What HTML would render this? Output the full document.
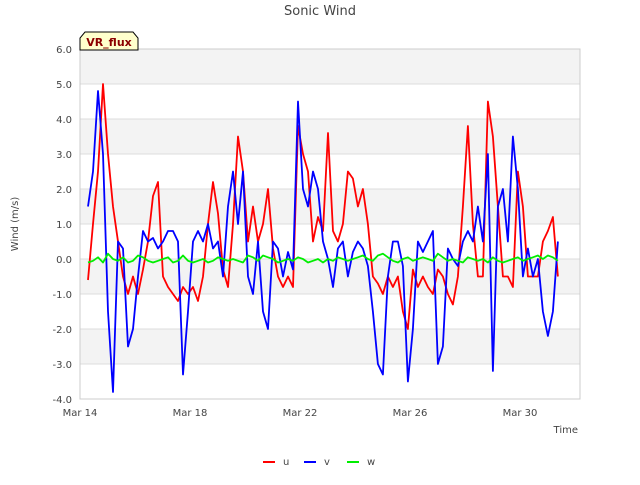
<!DOCTYPE html>
<html><head><meta charset="utf-8"><style>
body{margin:0;background:#fff;font-family:"Liberation Sans",sans-serif}
text{font-family:"DejaVu Sans","Liberation Sans",sans-serif}
</style></head><body>
<svg id="c" width="640" height="480">
<text x="320" y="15" text-anchor="middle" font-size="13" fill="#444">Sonic Wind</text>
<text x="18" y="224" text-anchor="middle" font-size="10" fill="#444" transform="rotate(-90 18 224)">Wind (m/s)</text>
<text x="578" y="433" text-anchor="end" font-size="10" fill="#444">Time</text>
<g id="bands"></g><g id="grid"></g><g id="ticks"></g><g id="series"></g>
<g><path d="M80 50 L80 38 L85 32 L133 32 L138 38 L138 50 Z" fill="#ffffcc" stroke="#000"/><text x="109" y="46" text-anchor="middle" font-size="11" font-weight="bold" fill="#8b0000">VR_flux</text></g>
<g id="legend"></g>
</svg>
<script>
const yTicks=[-4,-3,-2,-1,0,1,2,3,4,5,6];
const xTickDays=[0,4,8,12,16];
const xTickLabels=["Mar 14","Mar 18","Mar 22","Mar 26","Mar 30"];
const t0=0.29, dt=0.1818;
const u=[-0.6,1.0,2.5,5.0,3.0,1.5,0.5,-0.5,-1.0,-0.5,-1.0,-0.3,0.5,1.8,2.2,-0.5,-0.8,-1.0,-1.2,-0.8,-1.0,-0.8,-1.2,-0.5,1.0,2.2,1.3,-0.3,-0.8,1.0,3.5,2.5,0.5,1.5,0.5,1.0,2.0,0.3,-0.5,-0.8,-0.5,-0.8,3.8,3.0,2.5,0.5,1.2,0.8,3.6,0.8,0.5,1.0,2.5,2.3,1.5,2.0,1.0,-0.5,-0.7,-1.0,-0.5,-0.8,-0.5,-1.5,-2.0,-0.3,-0.8,-0.5,-0.8,-1.0,-0.3,-0.5,-1.0,-1.3,-0.5,1.5,3.8,1.0,-0.5,-0.5,4.5,3.5,1.5,-0.5,-0.5,-0.8,2.5,1.5,-0.5,-0.5,-0.5,0.5,0.8,1.2,-0.5];
const v=[1.5,2.5,4.8,3.0,-1.5,-3.8,0.5,0.3,-2.5,-2.0,-0.5,0.8,0.5,0.6,0.3,0.5,0.8,0.8,0.5,-3.3,-1.5,0.5,0.8,0.5,1.0,0.3,0.5,-0.5,1.5,2.5,1.0,2.5,-0.5,-1.0,0.5,-1.5,-2.0,0.5,0.3,-0.5,0.2,-0.3,4.5,2.0,1.5,2.5,2.0,0.5,0.0,-0.8,0.3,0.5,-0.5,0.2,0.5,0.3,-0.2,-1.5,-3.0,-3.3,-0.5,0.5,0.5,-0.2,-3.5,-2.0,0.5,0.2,0.5,0.8,-3.0,-2.5,0.3,0.0,-0.2,0.5,0.8,0.5,1.5,0.5,3.0,-3.2,1.5,2.0,0.5,3.5,2.0,-0.5,0.3,-0.5,0.0,-1.5,-2.2,-1.5,0.5];
const w=[-0.1,-0.05,0.05,-0.1,0.15,0.0,-0.05,0.05,-0.1,-0.05,0.1,0.05,-0.05,-0.1,-0.05,0.0,0.05,-0.1,-0.05,0.1,-0.05,-0.1,-0.05,0.0,-0.1,-0.05,0.05,0.0,-0.05,0.0,-0.05,-0.1,0.1,0.05,-0.05,0.1,0.05,0.0,-0.1,-0.05,0.0,-0.05,0.05,0.0,-0.1,-0.05,0.0,-0.1,0.0,-0.05,0.05,0.0,-0.05,0.0,0.05,0.1,0.0,-0.05,0.1,0.15,0.05,-0.05,-0.1,0.0,0.05,-0.05,0.0,0.05,0.0,-0.05,0.15,0.05,-0.05,0.0,-0.05,-0.1,0.05,0.0,-0.05,0.0,-0.1,0.05,-0.05,-0.1,-0.05,0.0,0.05,-0.05,0.0,0.05,0.1,0.0,0.1,0.05,-0.05];
const NS='http://www.w3.org/2000/svg';
const L=80,R=580,T=49,B=399;
const X=d=>L+d*27.5, Y=val=>B-(val+4)*(B-T)/10;
function mk(tag,attrs,parent){const e=document.createElementNS(NS,tag);for(const k in attrs)e.setAttribute(k,attrs[k]);document.getElementById(parent).appendChild(e);return e;}
for(let i=0;i<yTicks.length-1;i++){
  if((yTicks.length-2-i)%2===0){const r=mk('rect',{x:L,y:Y(yTicks[i+1]),width:R-L,height:Y(yTicks[i])-Y(yTicks[i+1]),fill:'#f3f3f3'},'bands');
  
  }
}
yTicks.forEach(t=>{
  const g=mk('line',{x1:L,x2:R,y1:Y(t),y2:Y(t),stroke:'#dcdcdc'},'grid');
  
  
  const tx=mk('text',{x:L-8,y:Y(t)+4,'text-anchor':'end','font-size':'10',fill:'#444'},'ticks');
  tx.textContent=t.toFixed(1);
  
  
});
mk('rect',{x:L,y:T,width:R-L,height:B-T,fill:'none',stroke:'#ccc'},'grid');
xTickDays.forEach((d,i)=>{
  const tx=mk('text',{x:X(d),y:B+17,'text-anchor':'middle','font-size':'10',fill:'#444'},'ticks');
  tx.textContent=xTickLabels[i];
  
  
});
function line(arr,color,name){
  const pts=arr.map((val,i)=>X(t0+i*dt).toFixed(1)+','+Y(val).toFixed(1)).join(' ');
  const p=mk('polyline',{points:pts,fill:'none',stroke:color,'stroke-width':'1.8','stroke-linejoin':'round'},'series');
  
  
}
line(u,'#ff0000','series-u');line(v,'#0000ff','series-v');line(w,'#00ee00','series-w');
[['u','#ff0000',263],['v','#0000ff',304],['w','#00ee00',347]].forEach(([n,c,x])=>{
  const l=mk('line',{x1:x,x2:x+12,y1:462,y2:462,stroke:c,'stroke-width':'2'},'legend');
  
  
  const tx=mk('text',{x:x+20,y:465,'font-size':'10',fill:'#444'},'legend');
  tx.textContent=n;
  
  
});
</script>
</body></html>
